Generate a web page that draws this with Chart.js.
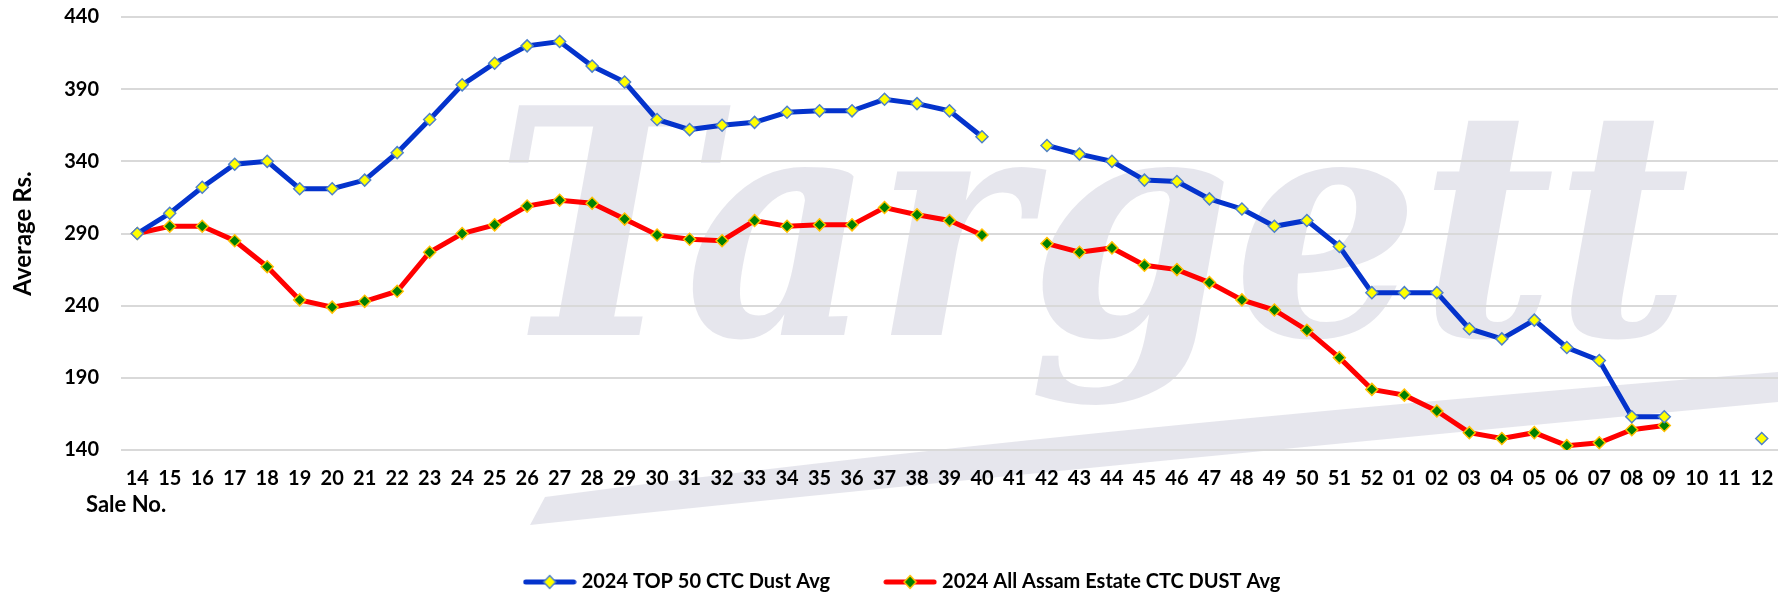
<!DOCTYPE html>
<html>
<head>
<meta charset="utf-8">
<title>CTC Dust Avg 2024</title>
<script src="https://cdn.jsdelivr.net/npm/chart.js@4.4.1/dist/chart.umd.min.js"></script>
<style>
  html, body { margin: 0; padding: 0; background: #ffffff; }
  #wrap { position: relative; width: 1778px; height: 595px; }
</style>
</head>
<body>
<div id="wrap"><canvas id="dustChart"></canvas></div>
<script>
// sale numbers (2024-25 season)
const saleNos = ['14','15','16','17','18','19','20','21','22','23','24','25','26','27','28','29','30',
  '31','32','33','34','35','36','37','38','39','40','41','42','43','44','45','46','47','48','49','50',
  '51','52','01','02','03','04','05','06','07','08','09','10','11','12'];

const top50Avg = [290, 304, 322, 338, 340, 321, 321, 327, 346, 369, 393, 408, 420, 423, 406, 395, 369,
  362, 365, 367, 374, 375, 375, 383, 380, 375, 357, null, 351, 345, 340, 327, 326, 314, 307, 295, 299,
  281, 249, 249, 249, 224, 217, 230, 211, 202, 163, 163, null, null, 148];

const assamAvg = [290, 295, 295, 285, 267, 244, 239, 243, 250, 277, 290, 296, 309, 313, 311, 300, 289,
  286, 285, 299, 295, 296, 296, 308, 303, 299, 289, null, 283, 277, 280, 268, 265, 256, 244, 237, 223,
  204, 182, 178, 167, 152, 148, 152, 143, 145, 154, 157, null, null, null];

const yTicks = [140, 190, 240, 290, 340, 390, 440];
const seriesNames = ['2024 TOP 50 CTC Dust Avg', '2024 All Assam Estate CTC DUST Avg'];

const FONT = 'Lato';

// little line + diamond pictures for the legend
function legendIcon(lineColor, fill, border) {
  const c = document.createElement('canvas');
  c.width = 54; c.height = 16;
  const g = c.getContext('2d');
  g.strokeStyle = lineColor;
  g.lineWidth = 5;
  g.lineCap = 'round';
  g.beginPath(); g.moveTo(3, 8); g.lineTo(51, 8); g.stroke();
  g.fillStyle = fill;
  g.strokeStyle = border;
  g.lineWidth = 1.5;
  g.beginPath();
  g.moveTo(27, 1.5); g.lineTo(33, 8); g.lineTo(27, 14.5); g.lineTo(21, 8); g.closePath();
  g.fill(); g.stroke();
  return c;
}
const icons = [
  legendIcon('#0433CC', '#FFFF00', '#4F81C8'),
  legendIcon('#FF0000', '#008000', '#FFC000')
];

// faint "Targett" watermark behind the grid
const watermark = {
  id: 'watermark',
  beforeDraw(chart) {
    const ctx = chart.ctx;
    ctx.save();
    ctx.fillStyle = 'rgba(226,226,234,0.85)';
    ctx.textBaseline = 'alphabetic';
    ctx.textAlign = 'left';
    ctx.font = 'italic bold 315px "DejaVu Serif"';
    const w = ctx.measureText('Targett').width;
    ctx.translate(495, 335);
    ctx.scale(1195 / w, 1);
    ctx.fillText('Targett', 0, 0);
    ctx.restore();

    // swoosh under the word
    ctx.save();
    ctx.fillStyle = 'rgba(226,226,234,0.85)';
    ctx.beginPath();
    ctx.moveTo(530, 525);
    ctx.quadraticCurveTo(1050, 470, 1778, 402);
    ctx.lineTo(1778, 372);
    ctx.quadraticCurveTo(1050, 430, 545, 497);
    ctx.closePath();
    ctx.fill();
    ctx.restore();
  },
  // nudge the legend a bit right, as in the source picture
  afterLayout(chart) {
    chart.legend.left += 15;
    chart.legend.right += 15;
  }
};

// "Sale No." sits left of the plot, under the first labels
const saleLabel = {
  id: 'saleLabel',
  afterDraw(chart) {
    const ctx = chart.ctx;
    ctx.save();
    ctx.font = 'bold 22px ' + FONT;
    ctx.fillStyle = '#000';
    ctx.textBaseline = 'middle';
    ctx.textAlign = 'left';
    ctx.fillText('Sale No.', 86, 505);
    ctx.restore();
  }
};

const data = {
  labels: saleNos,
  datasets: [{
    label: seriesNames[0],
    data: top50Avg,
    borderColor: '#0433CC',
    borderWidth: 5,
    pointStyle: 'rectRot',
    pointRadius: 6,
    pointHoverRadius: 6,
    pointBackgroundColor: '#FFFF00',
    pointBorderColor: '#4F81C8',
    pointBorderWidth: 1.5,
    tension: 0,
    spanGaps: false
  }, {
    label: seriesNames[1],
    data: assamAvg,
    borderColor: '#FF0000',
    borderWidth: 5,
    pointStyle: 'rectRot',
    pointRadius: 6,
    pointHoverRadius: 6,
    pointBackgroundColor: '#008000',
    pointBorderColor: '#FFC000',
    pointBorderWidth: 1.5,
    tension: 0,
    spanGaps: false
  }]
};

const config = {
  type: 'line',
  data: data,
  plugins: [watermark, saleLabel],
  options: {
    responsive: true,
    maintainAspectRatio: false,
    animation: false,
    layout: { autoPadding: false, padding: { top: 17, left: 0, right: 0, bottom: -7 } },
    scales: {
      x: {
        offset: true,
        grid: { display: false, drawTicks: false },
        border: { display: false },
        ticks: {
          autoSkip: false,
          maxRotation: 0,
          padding: 17,
          color: '#000',
          font: { family: FONT, size: 20, weight: 'bold' }
        },
        afterFit(scale) {
          scale.height = 64;
          scale.paddingLeft = 0;
          scale.paddingRight = 0;
        }
      },
      y: {
        min: 140,
        max: 440,
        afterBuildTicks(scale) { scale.ticks = yTicks.map(v => ({ value: v })); },
        grid: { color: '#D9D9D9', lineWidth: 2, drawTicks: false },
        border: { display: false },
        ticks: {
          padding: 22,
          color: '#000',
          font: { family: FONT, size: 20, weight: 'bold' }
        },
        title: {
          display: true,
          text: 'Average Rs.',
          color: '#000',
          padding: { top: 9, bottom: 0 },
          font: { family: FONT, size: 24, weight: 'bold' }
        },
        afterFit(scale) {
          scale.width = 121;
          scale.paddingTop = 0;
          scale.paddingBottom = 0;
        }
      }
    },
    plugins: {
      legend: {
        position: 'bottom',
        labels: {
          usePointStyle: true,
          pointStyleWidth: 44,
          padding: 58,
          color: '#000',
          font: { family: FONT, size: 20, weight: 'bold' },
          generateLabels(chart) {
            const items = Chart.defaults.plugins.legend.labels.generateLabels(chart);
            items.forEach((it, i) => { it.pointStyle = icons[i]; it.rotation = 0; });
            return items;
          }
        }
      },
      tooltip: { enabled: false }
    }
  }
};

new Chart(document.getElementById('dustChart').getContext('2d'), config);
</script>
</body>
</html>
